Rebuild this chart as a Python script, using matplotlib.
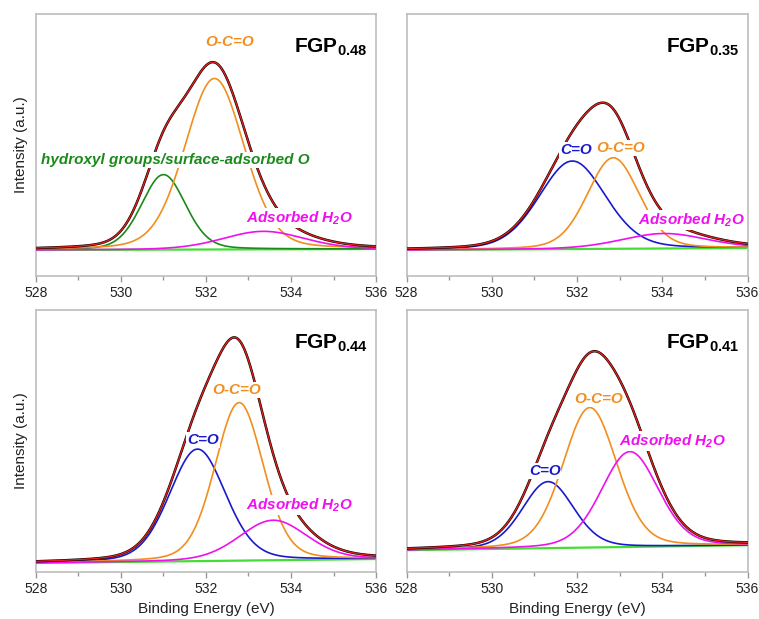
import numpy as np
import matplotlib
matplotlib.use("Agg")
import matplotlib.pyplot as plt
from matplotlib.ticker import MultipleLocator

plt.rcParams['font.family'] = ['Liberation Sans', 'DejaVu Sans']
plt.rcParams['mathtext.fontset'] = 'custom'
plt.rcParams['mathtext.rm'] = 'Liberation Sans'
plt.rcParams['mathtext.bf'] = 'Liberation Sans:bold'
plt.rcParams['mathtext.bfit'] = 'Liberation Sans:italic:bold'

# ---------------------------------
# peak fit parameters
# (centre eV, height a.u., sigma eV)
# ---------------------------------
samples = ["FGP$_\\mathbf{0.48}$", "FGP$_\\mathbf{0.35}$",
           "FGP$_\\mathbf{0.44}$", "FGP$_\\mathbf{0.41}$"]

# hydroxyl groups (only first sample)
oh_center = [531.0, None, None, None]
oh_height = [75, 0, 0, 0]
oh_sigma = [0.52, 0, 0, 0]

# C=O
co_center = [None, 531.89, 531.80, 531.32]
co_height = [0, 88, 112, 67]
co_sigma = [0, 0.78, 0.66, 0.60]

# O-C=O
oco_center = [532.2, 532.85, 532.78, 532.30]
oco_height = [171, 91, 158, 141]
oco_sigma = [0.70, 0.61, 0.57, 0.63]

# adsorbed water
h2o_center = [533.35, 534.04, 533.58, 533.24]
h2o_height = [18, 15, 40, 96]
h2o_sigma = [0.96, 1.0, 0.80, 0.67]

# lorentzian fraction of the GL line shape
gl_mix = 0.2

# linear background (start, end)
bg_start = [0, 0, 0, 0]
bg_end = [1, 2, 4, 5]

# y-limits of each panel
ylims = [(-26, 236), (-26, 236), (-9, 253), (-22, 242)]

# label positions (eV, height)
oco_lab = [(532.56, 208), (533.02, 102), (532.73, 173), (532.5, 152)]
co_lab = [None, (531.97, 100), (531.93, 123), (531.24, 80)]
h2o_lab = [(534.2, 32), (534.69, 30), (534.2, 58), (534.24, 110)]
oh_lab = (531.27, 90)

energy = np.linspace(528, 536, 600)


def peak(x, c, h, s):
    if c is None:
        return np.zeros_like(x)
    hw = 1.1774 * s
    u = ((x - c) / hw) ** 2
    return h * ((1 - gl_mix) * np.exp(-np.log(2) * u) + gl_mix / (1 + u))


c_orange = '#f28e1e'
c_green = '#1a8a1a'
c_blue = '#1a1acc'
c_mag = '#ee11ee'
c_lime = '#44dd33'
c_red = '#e3201b'

fig = plt.figure(figsize=(7.59, 6.19), dpi=100)
boxes = [[0.0474, 0.5541, 0.4480, 0.4233],
         [0.5356, 0.5541, 0.4493, 0.4233],
         [0.0474, 0.0759, 0.4480, 0.4233],
         [0.5356, 0.0759, 0.4493, 0.4233]]

lab_kw = dict(fontsize=11, fontweight='bold', fontstyle='italic', ha='center', va='center',
              zorder=10, bbox=dict(facecolor='white', edgecolor='none', pad=0.5))

for i in range(4):
    ax = fig.add_axes(boxes[i])
    bg = bg_start[i] + (bg_end[i] - bg_start[i]) * (energy - 528) / 8

    oh = peak(energy, oh_center[i], oh_height[i], oh_sigma[i])
    co = peak(energy, co_center[i], co_height[i], co_sigma[i])
    oco = peak(energy, oco_center[i], oco_height[i], oco_sigma[i])
    h2o = peak(energy, h2o_center[i], h2o_height[i], h2o_sigma[i])
    total = bg + oh + co + oco + h2o

    ax.plot(energy, bg, color=c_lime, lw=1.6, zorder=2)
    if oh_center[i] is not None:
        ax.plot(energy, bg + oh, color=c_green, lw=1.2, zorder=3)
    if co_center[i] is not None:
        ax.plot(energy, bg + co, color=c_blue, lw=1.2, zorder=3)
    ax.plot(energy, bg + oco, color=c_orange, lw=1.2, zorder=3)
    ax.plot(energy, bg + h2o, color=c_mag, lw=1.2, zorder=3)
    ax.plot(energy, total, color='black', lw=1.8, zorder=4)
    ax.plot(energy, total, color=c_red, lw=1.0, zorder=5)

    # labels
    ax.text(*oco_lab[i], "O-C=O", color=c_orange, **lab_kw)
    if co_lab[i] is not None:
        ax.text(*co_lab[i], "C=O", color=c_blue, **lab_kw)
    ax.text(*h2o_lab[i], "Adsorbed H$_\\mathbfit{2}$O", color=c_mag, **lab_kw)
    if i == 0:
        ax.text(*oh_lab, "hydroxyl groups/surface-adsorbed O", color=c_green, **lab_kw)
    ax.text(0.975, 0.875, samples[i], transform=ax.transAxes, ha='right', va='center',
            fontsize=15, fontweight='bold', zorder=10)

    ax.set_xlim(528, 536)
    ax.set_ylim(*ylims[i])
    ax.xaxis.set_major_locator(MultipleLocator(2))
    ax.xaxis.set_minor_locator(MultipleLocator(1))
    ax.set_yticks([])
    for sp in ax.spines.values():
        sp.set_color('#bdbdbd')
        sp.set_linewidth(1.2)
    ax.tick_params(axis='x', which='both', direction='out', colors='#999999',
                   labelcolor='#222222', labelsize=10, width=1)
    ax.tick_params(axis='x', which='major', length=4)
    ax.tick_params(axis='x', which='minor', length=3)

    if i % 2 == 0:
        ax.set_ylabel("Intensity (a.u.)", fontsize=11, color='#222222', labelpad=6)
    if i >= 2:
        ax.set_xlabel("Binding Energy (eV)", fontsize=11, color='#222222', labelpad=4)

fig.savefig("out.png", dpi=100)
